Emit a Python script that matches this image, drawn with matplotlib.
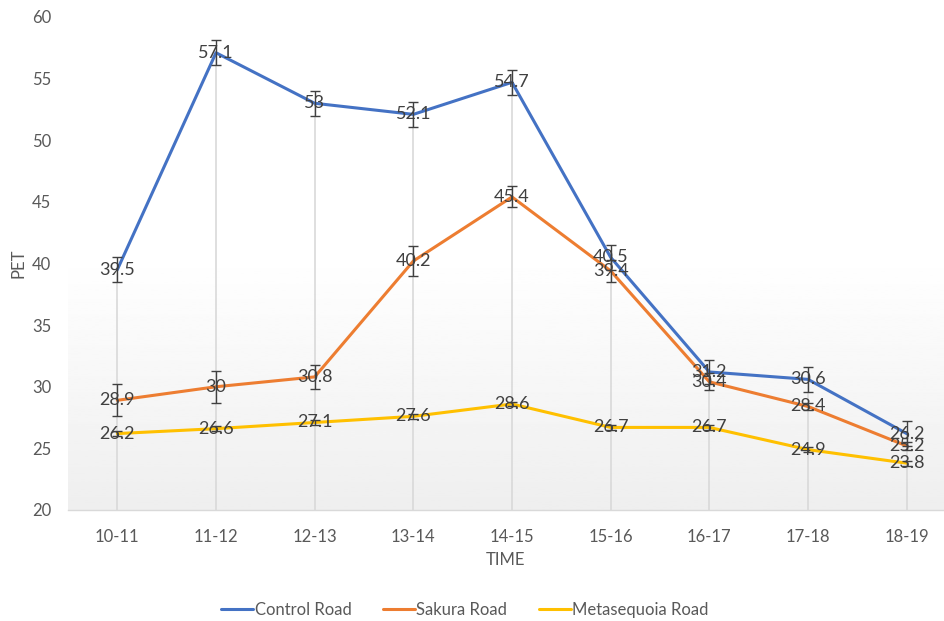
import numpy as np
import matplotlib.pyplot as plt

# PET by time slot for the three roads
times = ["10-11", "11-12", "12-13", "13-14", "14-15", "15-16", "16-17", "17-18", "18-19"]
control = [39.5, 57.1, 53, 52.1, 54.7, 40.5, 31.2, 30.6, 26.2]
sakura = [28.9, 30, 30.8, 40.2, 45.4, 39.4, 30.4, 28.4, 25.2]
metaseq = [26.2, 26.6, 27.1, 27.6, 28.6, 26.7, 26.7, 24.9, 23.8]

# error bar half-widths
control_err = [1.0, 1.0, 1.0, 1.0, 1.0, 1.0, 1.0, 1.0, 1.0]
sakura_err = [1.3, 1.3, 1.0, 1.25, 0.85, 0.9, 0.7, 0.3, 0.3]
metaseq_err = [0.2, 0.2, 0.2, 0.2, 0.2, 0.2, 0.2, 0.2, 0.2]

plt.rcParams['font.family'] = ['Lato', 'DejaVu Sans']

fig = plt.figure(figsize=(9.44, 6.21), dpi=100)
ax = fig.add_axes([68 / 944, 1 - 510 / 621, (944 - 68) / 944, (510 - 17) / 621])

x = np.arange(len(times))
ax.set_xlim(-0.5, 8.5 - 12 / 98.75)
ax.set_ylim(20, 60)

# plot area background: white at top fading to light grey at the bottom
shade = np.clip(np.linspace(0.935, 1.06, 256), 0, 1)
ax.imshow(shade.reshape(-1, 1), cmap='gray', vmin=0, vmax=1, aspect='auto',
          extent=[-0.5, 8.5, 20, 60], origin='lower', zorder=0)

# drop lines from the axis up to the highest point of each slot
tops = np.max([control, sakura, metaseq], axis=0)
ax.vlines(x, 20, tops, color='#d9d9d9', lw=1.2, zorder=1)

series = [
    ("Control Road", control, control_err, '#4472C4'),
    ("Sakura Road", sakura, sakura_err, '#ED7D31'),
    ("Metasequoia Road", metaseq, metaseq_err, '#FFC000'),
]
for name, vals, err, col in series:
    ax.plot(x, vals, color=col, lw=2.2, label=name, zorder=3, solid_capstyle='round')
    ax.errorbar(x, vals, yerr=err, fmt='none', ecolor='#404040', elinewidth=1,
                capsize=3.5, capthick=1, zorder=4)
    for xi, v in zip(x, vals):
        ax.text(xi, v, f"{v:g}", ha='center', va='center', fontsize=13,
                color='#404040', zorder=5)

for s in ['top', 'right', 'left']:
    ax.spines[s].set_visible(False)
ax.spines['bottom'].set_color('#d9d9d9')
ax.spines['bottom'].set_linewidth(1)

ax.set_xticks(x)
ax.set_xticklabels(times)
ax.set_yticks(range(20, 61, 5))
ax.tick_params(axis='both', length=0, labelsize=12, colors='#595959')
ax.tick_params(axis='x', pad=14)
ax.tick_params(axis='y', pad=12)

ax.set_xlabel("TIME", fontsize=12, color='#595959', labelpad=5)
ax.set_ylabel("PET", fontsize=12, color='#595959', labelpad=4)

fig.legend(loc='center', bbox_to_anchor=(465 / 944, 1 - 610 / 621), ncol=3,
           frameon=False, fontsize=12, handlelength=1.9, handletextpad=0.1,
           columnspacing=1.9, labelcolor='#595959')

fig.savefig("out.png", dpi=100)
